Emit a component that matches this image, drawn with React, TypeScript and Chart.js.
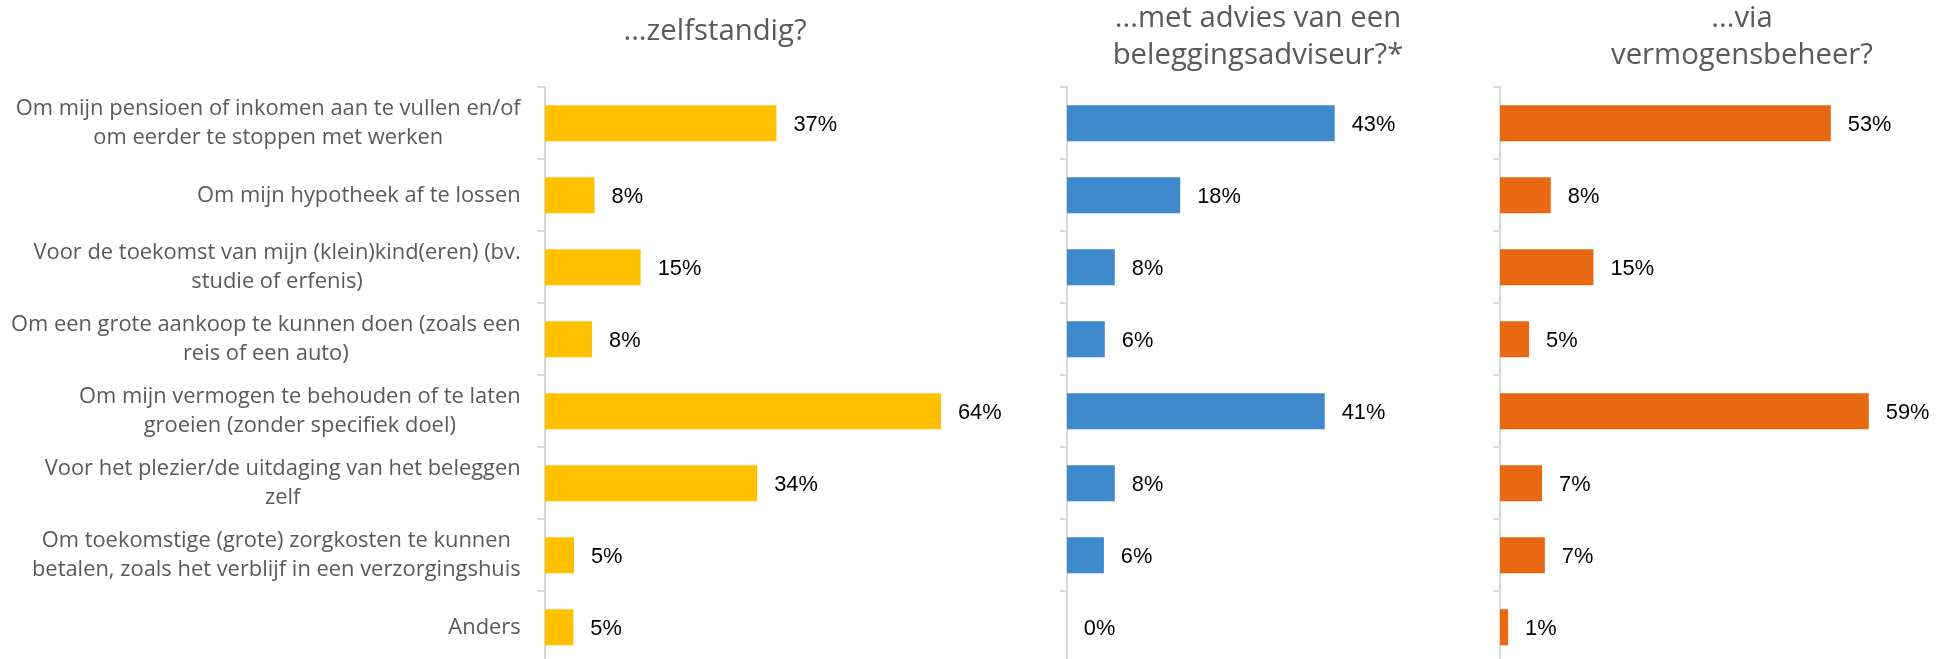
import React, { useEffect, useRef } from "react";
import { Chart, registerables } from "chart.js";

Chart.register(...registerables);

// ---------- data ----------
const categories: string[][] = [
  ["Om mijn pensioen of inkomen aan te vullen en/of", "om eerder te stoppen met werken"],
  ["Om mijn hypotheek af te lossen"],
  ["Voor de toekomst van mijn (klein)kind(eren) (bv.", "studie of erfenis)"],
  ["Om een grote aankoop te kunnen doen (zoals een", "reis of een auto)"],
  ["Om mijn vermogen te behouden of te laten", "groeien (zonder specifiek doel)"],
  ["Voor het plezier/de uitdaging van het beleggen", "zelf"],
  ["Om toekomstige (grote) zorgkosten te kunnen", "betalen, zoals het verblijf in een verzorgingshuis"],
  ["Anders"],
];

const zelfstandig = [37.2, 8.0, 15.4, 7.6, 63.6, 34.1, 4.7, 4.6];
const metAdvies = [43.0, 18.2, 7.7, 6.1, 41.4, 7.7, 5.95, 0];
const vermogensbeheer = [53.1, 8.15, 15.0, 4.66, 59.2, 6.75, 7.2, 1.3];

const titleZelf = ["...zelfstandig?"];
const titleAdvies = ["...met advies van een", "beleggingsadviseur?*"];
const titleBeheer = ["...via", "vermogensbeheer?"];

// ---------- layout ----------
const PX_PER_UNIT = 6.23;
const CANVAS_H = 680;
const PLOT_TOP = 87.3;
const PLOT_BOTTOM = 663.3;
const GRAY = "#595959";
const CAT_FONT = '21.9px "Open Sans"';
const TITLE_FONT = '29.3px "Open Sans"';
const VALUE_FONT = '21.8px "Liberation Sans"';

type Panel = {
  title: string[];
  titleX: number;
  titleBaselines: number[];
  data: number[];
  color: string;
  left: number;
  width: number;
  axisX: number;
  showCategories: boolean;
};

const panels: Panel[] = [
  { title: titleZelf, titleX: 715, titleBaselines: [40], data: zelfstandig, color: "#FFC000", left: 0, width: 1043, axisX: 544.7, showCategories: true },
  { title: titleAdvies, titleX: 1258, titleBaselines: [26.7, 64], data: metAdvies, color: "#3E88CC", left: 1000, width: 566, axisX: 1066.8, showCategories: false },
  { title: titleBeheer, titleX: 1742, titleBaselines: [26.7, 63.5], data: vermogensbeheer, color: "#E96912", left: 1450, width: 550, axisX: 1500, showCategories: false },
];

function PanelChart({ p }: { p: Panel }) {
  const ref = useRef<HTMLCanvasElement | null>(null);
  useEffect(() => {
    if (!ref.current) return;
    const axisW = p.axisX - p.left;
    const xMax = (p.width - axisW) / PX_PER_UNIT;

    const textPlugin = {
      id: "panelText",
      afterDraw(chart: any) {
        const ctx = chart.ctx as CanvasRenderingContext2D;
        const yScale = chart.scales.y;
        ctx.save();
        // title
        ctx.fillStyle = GRAY;
        ctx.font = TITLE_FONT;
        ctx.textAlign = "center";
        ctx.textBaseline = "alphabetic";
        p.title.forEach((line, i) => {
          ctx.fillText(line, p.titleX - p.left, p.titleBaselines[i]);
        });
        // category labels
        if (p.showCategories) {
          ctx.font = CAT_FONT;
          ctx.fillStyle = GRAY;
          ctx.textAlign = "center";
          const right = chart.chartArea.left - 24;
          categories.forEach((lines, i) => {
            const cy = yScale.getPixelForValue(i);
            const w = Math.max(...lines.map((l) => ctx.measureText(l).width));
            const cx = right - w / 2;
            const lh = 29.5;
            lines.forEach((l, j) => {
              const y = cy + (j - (lines.length - 1) / 2) * lh + 6.3;
              ctx.fillText(l, cx, y);
            });
          });
        }
        ctx.restore();
      },
      afterDatasetsDraw(chart: any) {
        const ctx = chart.ctx as CanvasRenderingContext2D;
        const meta = chart.getDatasetMeta(0);
        ctx.save();
        ctx.font = VALUE_FONT;
        ctx.fillStyle = "#000000";
        ctx.textAlign = "left";
        ctx.textBaseline = "alphabetic";
        meta.data.forEach((bar: any, i: number) => {
          const v = p.data[i];
          ctx.fillText(Math.round(v) + "%", bar.x + 17, bar.y + 7.8);
        });
        ctx.restore();
      },
    };

    const chart = new Chart(ref.current, {
      type: "bar",
      data: {
        labels: categories.map((c) => c.join(" ")),
        datasets: [
          {
            data: p.data,
            backgroundColor: p.color,
            borderWidth: 0,
            barPercentage: 0.5,
            categoryPercentage: 1,
          },
        ],
      },
      options: {
        indexAxis: "y",
        responsive: false,
        animation: false,
        layout: { padding: { top: PLOT_TOP, bottom: CANVAS_H - PLOT_BOTTOM, left: 0, right: 0 } },
        plugins: {
          legend: { display: false },
          tooltip: { enabled: false },
          title: { display: false },
        },
        scales: {
          x: { display: false, min: 0, max: xMax },
          y: {
            display: true,
            ticks: { display: false },
            grid: {
              display: true,
              drawOnChartArea: false,
              drawTicks: true,
              tickLength: 7,
              color: "#d9d9d9",
              lineWidth: 2,
              offset: true,
            },
            border: { display: true, color: "#d9d9d9", width: 2 },
            afterFit: (s: any) => {
              s.width = axisW;
            },
          },
        },
      } as any,
      plugins: [textPlugin],
    });
    return () => chart.destroy();
  }, [p]);

  return (
    <canvas
      ref={ref}
      width={p.width}
      height={CANVAS_H}
      style={{ position: "absolute", left: p.left, top: 0, width: p.width, height: CANVAS_H }}
    />
  );
}

export default function App() {
  return (
    <div
      style={{
        position: "absolute",
        left: 0,
        top: 0,
        width: 1936,
        height: 659,
        overflow: "hidden",
        background: "#ffffff",
      }}
    >
      {panels.map((p, i) => (
        <PanelChart key={i} p={p} />
      ))}
    </div>
  );
}
